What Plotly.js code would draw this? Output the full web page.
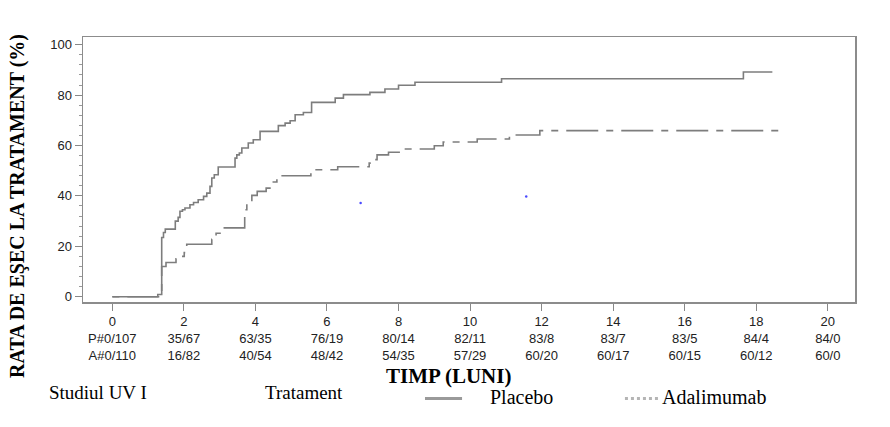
<!DOCTYPE html>
<html>
<head>
<meta charset="utf-8">
<script src="https://cdn.plot.ly/plotly-3.0.1.min.js"></script>
<style>
  html, body { margin: 0; padding: 0; background: #fff; }
  #chart { width: 890px; height: 427px; }
</style>
</head>
<body>
<div id="chart"></div>
<script>
// Kaplan-Meier style cumulative treatment-failure curves (months vs %)
const placeboMonths = [0, 1.27, 1.38, 1.43, 1.48, 1.76, 1.84, 1.89, 1.96, 2.03, 2.17, 2.27, 2.40, 2.55, 2.64, 2.73, 2.78, 2.85, 2.96, 3.43, 3.48, 3.55, 3.62, 3.80, 3.94, 4.13, 4.64, 4.83, 4.97, 5.11, 5.34, 5.57, 6.23, 6.46, 7.20, 7.62, 8.00, 8.46, 10.88, 17.64, 18.45];
const placeboRate   = [0, 0.9, 23.5, 25.5, 26.8, 30.0, 31.5, 33.9, 34.5, 35.2, 36.5, 37.4, 38.5, 39.8, 41.1, 43.8, 47.1, 48.4, 51.5, 55.0, 56.3, 57.0, 59.0, 61.0, 62.3, 65.6, 67.9, 68.9, 69.8, 72.2, 73.1, 77.1, 78.8, 80.2, 81.1, 82.4, 83.9, 85.1, 86.5, 89.2, 89.2];

const adaMonths = [0, 1.38, 1.50, 1.78, 1.94, 2.01, 2.08, 2.78, 2.90, 3.05, 3.70, 3.76, 3.90, 4.05, 4.30, 4.50, 4.60, 5.55, 6.30, 7.18, 7.25, 7.40, 7.72, 8.05, 9.00, 9.25, 10.20, 11.10, 11.95, 18.67];
const adaRate   = [0, 12.0, 13.6, 15.0, 16.0, 17.5, 20.8, 22.8, 25.2, 27.3, 34.5, 37.8, 40.2, 41.8, 43.1, 45.5, 48.0, 50.4, 51.6, 53.0, 54.4, 56.3, 57.3, 58.6, 59.9, 61.4, 62.6, 64.2, 65.9, 65.9];

// Stray blue marks inside the plot
const markMonths = [6.94, 11.57];
const markRate   = [37.2, 39.8];

// Time axis ticks and numbers at risk under each tick
const tickMonths = [0, 2, 4, 6, 8, 10, 12, 14, 16, 18, 20];
const placeboAtRisk = ["P#0/107", "35/67", "63/35", "76/19", "80/14", "82/11", "83/8", "83/7", "83/5", "84/4", "84/0"];
const adaAtRisk     = ["A#0/110", "16/82", "40/54", "48/42", "54/35", "57/29", "60/20", "60/17", "60/15", "60/12", "60/0"];

const yTicks = [0, 20, 40, 60, 80, 100];

const tickText = tickMonths.map((m, i) => m + "<br>" + placeboAtRisk[i] + "<br>" + adaAtRisk[i]);

const lineGrey = "#7d7d7d";
const serif = "Liberation Serif, Times New Roman, serif";
const sans = "Liberation Sans, Arial, Helvetica, sans-serif";

const traces = [
  {
    x: placeboMonths, y: placeboRate, type: "scatter", mode: "lines",
    line: { shape: "hv", color: lineGrey, width: 1.6 }, name: "Placebo"
  },
  {
    x: adaMonths, y: adaRate, type: "scatter", mode: "lines",
    line: { shape: "hv", color: lineGrey, width: 1.6, dash: "7px,8px,32px,8px" }, name: "Adalimumab"
  },
  {
    x: markMonths, y: markRate, type: "scatter", mode: "markers",
    marker: { size: 2.5, color: "#4a4aff" }, name: ""
  }
];

const layout = {
  width: 890, height: 427,
  margin: { l: 83, r: 35, t: 37, b: 125 },
  paper_bgcolor: "#ffffff", plot_bgcolor: "#ffffff",
  showlegend: false,
  hovermode: false,
  xaxis: {
    range: [-0.82, 20.76],
    tickvals: tickMonths, ticktext: tickText,
    ticks: "outside", ticklen: 7, tickcolor: "#888", tickwidth: 1,
    showgrid: false, zeroline: false,
    showline: true, mirror: true, linecolor: "#8c8c8c", linewidth: 1.5,
    tickfont: { family: sans, size: 13, color: "#222" }
  },
  yaxis: {
    range: [-2.1, 103.06],
    tickvals: yTicks,
    ticks: "outside", ticklen: 7, tickcolor: "#888", tickwidth: 1,
    minor: { dtick: 4, ticks: "outside", ticklen: 3, tickcolor: "#999" },
    showgrid: false, zeroline: false,
    showline: true, mirror: true, linecolor: "#8c8c8c", linewidth: 1.5,
    tickfont: { family: sans, size: 13, color: "#222" }
  },
  annotations: [
    {
      text: "<b>RATA DE EŞEC LA TRATAMENT (%)</b>", textangle: -90,
      xref: "paper", yref: "paper", x: -0.084, y: 0.363,
      xanchor: "center", yanchor: "middle", showarrow: false,
      font: { family: serif, size: 20, color: "#000" }
    },
    {
      text: "<b>TIMP (LUNI)</b>",
      xref: "paper", yref: "paper", x: 0.473, y: -0.279,
      xanchor: "center", yanchor: "middle", showarrow: false,
      font: { family: serif, size: 21, color: "#000" }
    },
    {
      text: "Studiul UV I", xref: "paper", yref: "paper", x: -0.047, y: -0.342,
      xanchor: "left", yanchor: "middle", showarrow: false,
      font: { family: serif, size: 19, color: "#000" }
    },
    {
      text: "Tratament", xref: "paper", yref: "paper", x: 0.233, y: -0.342,
      xanchor: "left", yanchor: "middle", showarrow: false,
      font: { family: serif, size: 19, color: "#000" }
    },
    {
      text: "Placebo", xref: "paper", yref: "paper", x: 0.5246, y: -0.36,
      xanchor: "left", yanchor: "middle", showarrow: false,
      font: { family: serif, size: 20, color: "#000" }
    },
    {
      text: "Adalimumab", xref: "paper", yref: "paper", x: 0.747, y: -0.36,
      xanchor: "left", yanchor: "middle", showarrow: false,
      font: { family: serif, size: 20, color: "#000" }
    }
  ],
  shapes: [
    {
      type: "line", xref: "paper", yref: "paper",
      x0: 0.443, x1: 0.491, y0: -0.364, y1: -0.364,
      line: { color: "#9a9a9a", width: 3 }
    },
    {
      type: "line", xref: "paper", yref: "paper",
      x0: 0.702, x1: 0.745, y0: -0.364, y1: -0.364,
      line: { color: "#b5b5b5", width: 3, dash: "dot" }
    }
  ]
};

Plotly.newPlot("chart", traces, layout, { staticPlot: true, displayModeBar: false });
</script>
</body>
</html>
